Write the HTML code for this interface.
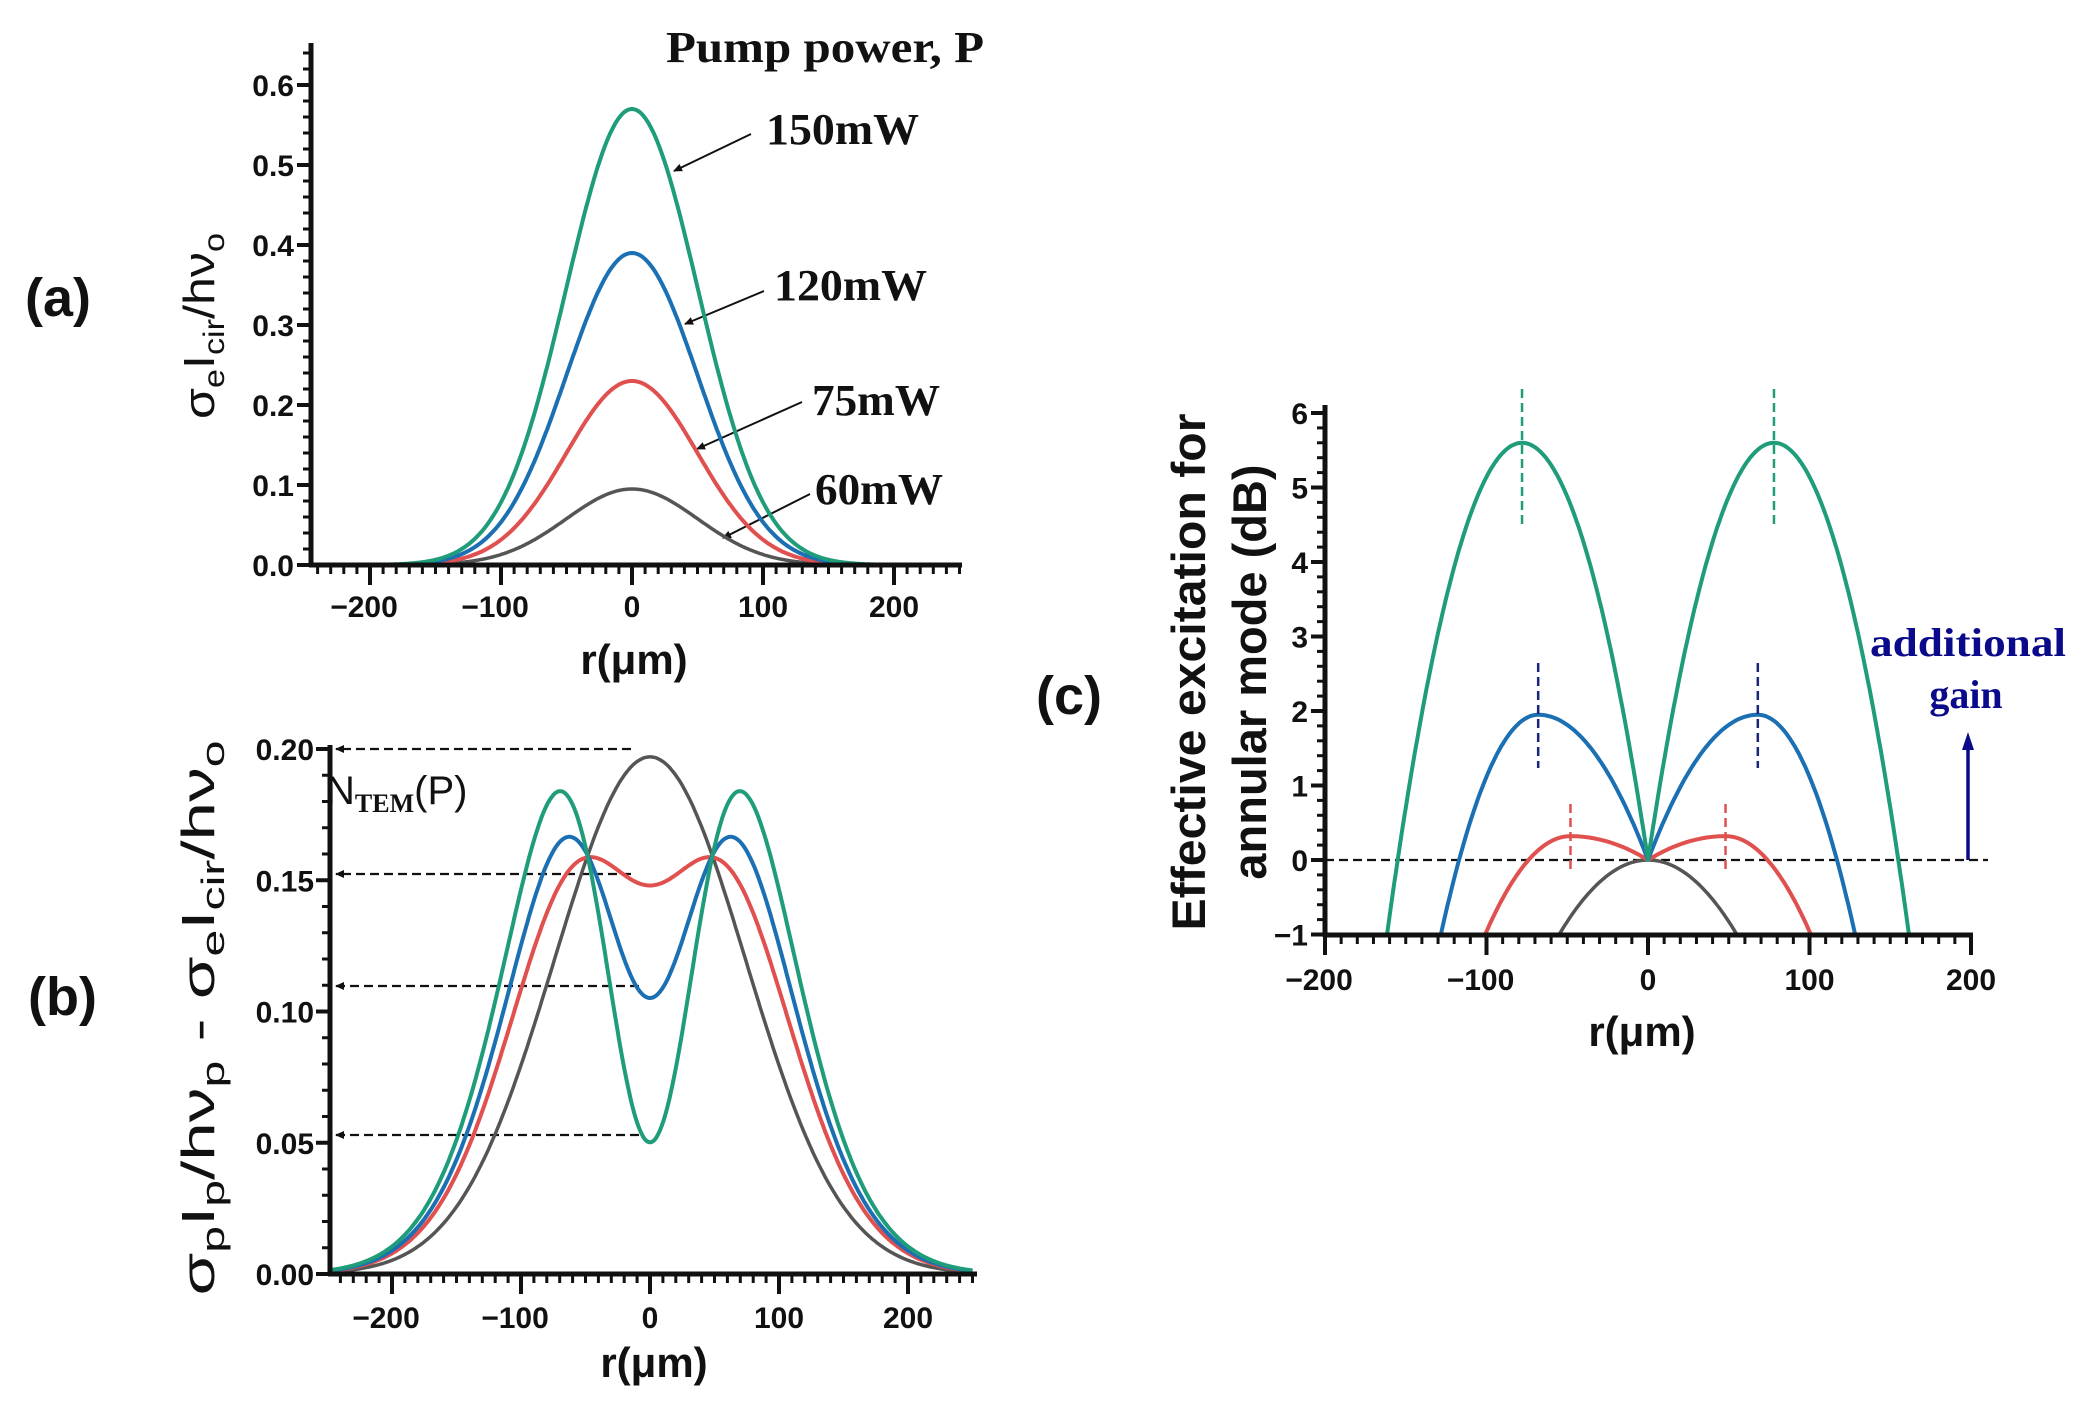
<!DOCTYPE html>
<html><head><meta charset="utf-8"><style>
html,body{margin:0;padding:0;background:#fff;}
svg{display:block}
.t{font-family:"Liberation Sans",sans-serif;font-weight:bold;fill:#111}
.s{font-family:"Liberation Serif",serif;font-weight:bold;fill:#111}
</style></head><body>
<svg id="g" width="2088" height="1411" viewBox="0 0 2088 1411" xmlns="http://www.w3.org/2000/svg">
<defs>
<marker id="ah" markerWidth="10" markerHeight="10" refX="8" refY="5" orient="auto" markerUnits="userSpaceOnUse"><path d="M0,1 L9,5 L0,9 z" fill="#111"/></marker>
<marker id="ahb" markerWidth="20" markerHeight="20" refX="10" refY="18" orient="0" markerUnits="userSpaceOnUse"><path d="M4,20 L10,2 L16,20 z" fill="#0a0a8a"/></marker>
<clipPath id="cc"><rect x="1325" y="360" width="700" height="575"/></clipPath>
</defs>
<!-- Panel labels -->
<text class="t" x="25" y="316" font-size="54">(a)</text>
<text class="t" x="28" y="1015" font-size="54">(b)</text>
<text class="t" x="1036" y="714" font-size="54">(c)</text>

<!-- (a) text -->
<text class="s" x="666" y="62" font-size="44" textLength="318" lengthAdjust="spacingAndGlyphs">Pump power, P</text>
<text class="s" x="766" y="144" font-size="44" textLength="153" lengthAdjust="spacingAndGlyphs">150mW</text>
<text class="s" x="774" y="300" font-size="44" textLength="153" lengthAdjust="spacingAndGlyphs">120mW</text>
<text class="s" x="812" y="415" font-size="44" textLength="128" lengthAdjust="spacingAndGlyphs">75mW</text>
<text class="s" x="815" y="504" font-size="44" textLength="128" lengthAdjust="spacingAndGlyphs">60mW</text>
<g stroke="#111" stroke-width="2" marker-end="url(#ah)">
<line x1="751" y1="134" x2="674" y2="171"/>
<line x1="764" y1="291" x2="685" y2="324"/>
<line x1="802" y1="402" x2="697" y2="449"/>
<line x1="810" y1="494" x2="723" y2="538"/>
</g>
<text transform="translate(214,326) rotate(-90)" text-anchor="middle" font-family="Liberation Sans,sans-serif" font-size="44" fill="#111" textLength="186" lengthAdjust="spacingAndGlyphs">σ<tspan font-size="30" dy="10">e</tspan><tspan dy="-10">I</tspan><tspan font-size="30" dy="10">cir</tspan><tspan dy="-10">/hν</tspan><tspan font-size="30" dy="10">o</tspan></text>
<text class="t" x="634" y="674" font-size="42" text-anchor="middle">r(μm)</text>

<!-- (b) text -->
<text transform="translate(214,1018) rotate(-90)" text-anchor="middle" font-family="Liberation Sans,sans-serif" font-size="46" fill="#111" textLength="555" lengthAdjust="spacingAndGlyphs">σ<tspan font-size="32" dy="10">p</tspan><tspan dy="-10">I</tspan><tspan font-size="32" dy="10">p</tspan><tspan dy="-10">/hν</tspan><tspan font-size="32" dy="10">p</tspan><tspan dy="-10"> - σ</tspan><tspan font-size="32" dy="10">e</tspan><tspan dy="-10">I</tspan><tspan font-size="32" dy="10">cir</tspan><tspan dy="-10">/hν</tspan><tspan font-size="32" dy="10">o</tspan></text>
<text class="t" x="654" y="1377" font-size="42" text-anchor="middle">r(μm)</text>
<text x="326" y="804" font-family="Liberation Sans,sans-serif" font-size="40" fill="#111">N<tspan font-family="Liberation Serif,serif" font-weight="bold" font-size="26" dy="8">TEM</tspan><tspan dy="-8">(P)</tspan></text>
<g stroke="#111" stroke-width="2.2" stroke-dasharray="9,5" fill="none">
<line x1="631" y1="749" x2="336" y2="749" marker-end="url(#ah)"/>
<line x1="631" y1="874" x2="336" y2="874" marker-end="url(#ah)"/>
<line x1="639" y1="986" x2="336" y2="986" marker-end="url(#ah)"/>
<line x1="639" y1="1135" x2="336" y2="1135" marker-end="url(#ah)"/>
</g>

<!-- (c) text -->
<text class="t" transform="translate(1205,672) rotate(-90)" text-anchor="middle" font-size="47" textLength="517" lengthAdjust="spacingAndGlyphs">Effective excitation for</text>
<text class="t" transform="translate(1266,672) rotate(-90)" text-anchor="middle" font-size="47">annular mode (dB)</text>
<text class="t" x="1642" y="1046" font-size="42" text-anchor="middle">r(μm)</text>
<text class="s" x="1968" y="656" font-size="40" text-anchor="middle" style="fill:#0a0a8a" textLength="196" lengthAdjust="spacingAndGlyphs">additional</text>
<text class="s" x="1966" y="708" font-size="40" text-anchor="middle" style="fill:#0a0a8a">gain</text>
<line x1="1968" y1="860" x2="1968" y2="748" stroke="#0a0a8a" stroke-width="3.5" marker-end="url(#ahb)"/>
<line x1="1325" y1="860" x2="1988" y2="860" stroke="#111" stroke-width="2.2" stroke-dasharray="9,5"/>
<g id="dyn"></g>
</svg>
<script>
var NS="http://www.w3.org/2000/svg",G=document.getElementById('dyn');
function el(t,a,p){var e=document.createElementNS(NS,t);for(var k in a)e.setAttribute(k,a[k]);(p||G).appendChild(e);return e;}
function txt(x,y,s,sz,anc){var e=el('text',{x:x,y:y,'class':'t','font-size':sz,'text-anchor':anc||'middle'});e.textContent=s;}
function curve(f,mx,my,r0,r1,col,w,clip){var d='';for(var r=r0;r<=r1+1e-9;r+=1){var X=mx(r),Y=my(f(r));d+=(d?'L':'M')+X.toFixed(1)+','+Y.toFixed(1);}
var a={d:d,fill:'none',stroke:col,'stroke-width':w||4,'stroke-linejoin':'round'};if(clip)a['clip-path']='url(#cc)';el('path',a);}
var GR='#1f9c7a',BL='#1b6fb3',RD='#e0504f',GY='#555555';
var TF=30;
// ---- Panel A ----
(function(){var mx=function(r){return 632+r*1.31},my=function(v){return 565-v*800};
function g(A){return function(r){return A*Math.exp(-(r/71)*(r/71));}}
curve(g(0.095),mx,my,-250,250,GY,3.5);curve(g(0.23),mx,my,-250,250,RD,4);curve(g(0.39),mx,my,-250,250,BL,4);curve(g(0.57),mx,my,-250,250,GR,4);
el('line',{x1:311,y1:43,x2:311,y2:567,stroke:'#111','stroke-width':5});
el('line',{x1:309,y1:565,x2:962,y2:565,stroke:'#111','stroke-width':5});
for(var i=0;i<=32;i++){var v=i*0.02,Y=my(v);if(Y<43)break;var maj=(i%5==0);el('line',{x1:311,x2:maj?297:303,y1:Y,y2:Y,stroke:'#111','stroke-width':maj?4:3});if(maj)txt(294,Y+11,v.toFixed(1),TF,'end');}
for(var r=-240;r<=250;r+=10){var X=mx(r);var maj=(r%100==0);el('line',{x1:X,x2:X,y1:565,y2:maj?585:574,stroke:'#111','stroke-width':maj?4:3});if(maj)txt(X+(r<0?-6:0),617,(r<0?'\u2212':'')+Math.abs(r),TF);}
})();
// ---- Panel B ----
(function(){var mx=function(r){return 650+r*1.29},my=function(v){return 1274-v*2625};
function f(A,wp,d,wd){return function(r){return A*Math.exp(-(r/wp)*(r/wp))*(1-d*Math.exp(-(r/wd)*(r/wd)));}}
curve(f(0.197,105,0,50),mx,my,-248,250,GY,3.5);curve(f(0.296,105,0.5,77),mx,my,-248,250,RD,4);curve(f(0.337,105,0.688,68),mx,my,-248,250,BL,4);curve(f(0.395,105,0.873,65),mx,my,-248,250,GR,4);
el('line',{x1:330,y1:745,x2:330,y2:1276,stroke:'#111','stroke-width':5});
el('line',{x1:328,y1:1274,x2:977,y2:1274,stroke:'#111','stroke-width':5});
for(var i=0;i<=20;i++){var v=i*0.01,Y=my(v);var maj=(i%5==0);el('line',{x1:330,x2:maj?316:322,y1:Y,y2:Y,stroke:'#111','stroke-width':maj?4:3});if(maj)txt(314,Y+11,v.toFixed(2),TF,'end');}
for(var r=-240;r<=250;r+=10){var X=mx(r);var maj=(r%100==0);el('line',{x1:X,x2:X,y1:1274,y2:maj?1294:1283,stroke:'#111','stroke-width':maj?4:3});if(maj)txt(X+(r<0?-6:0),1328,(r<0?'\u2212':'')+Math.abs(r),TF);}
})();
// ---- Panel C ----
(function(){var mx=function(r){return 1648+r*1.615},my=function(v){return 860-v*74.5};
function h(pk,rp,z){return function(r){var a=Math.abs(r),u;if(a<=rp){u=(a-rp)/rp;}else{u=(a-rp)/(z-rp);}return pk*(1-u*u);}}
curve(function(r){return -(r/55)*(r/55)},mx,my,-80,80,GY,3.5,1);
curve(h(0.32,48,74),mx,my,-110,110,RD,4,1);
curve(h(1.95,68,117),mx,my,-140,140,BL,4,1);
curve(h(5.6,78,155),mx,my,-175,175,GR,4,1);
var dl=[[78,389,527,GR],[68,663,768,'#1a237e'],[48,804,871,RD]];
dl.forEach(function(d){[-1,1].forEach(function(s){var X=mx(s*d[0]);el('line',{x1:X,x2:X,y1:d[1],y2:d[2],stroke:d[3],'stroke-width':2.5,'stroke-dasharray':'9,5'});});});
el('line',{x1:1325,y1:405,x2:1325,y2:937,stroke:'#111','stroke-width':5});
el('line',{x1:1323,y1:935,x2:1973,y2:935,stroke:'#111','stroke-width':5});
for(var i=0;i<=35;i++){var v=-1+i*0.2,Y=my(v);var maj=(i%5==0);el('line',{x1:1325,x2:maj?1311:1317,y1:Y,y2:Y,stroke:'#111','stroke-width':maj?4:3});if(maj)txt(1308,Y+11,(v<-0.5?'\u2212':'')+Math.round(Math.abs(v)),TF,'end');}
for(var r=-200;r<=200;r+=10){var X=mx(r);var maj=(r%100==0);el('line',{x1:X,x2:X,y1:935,y2:maj?955:944,stroke:'#111','stroke-width':maj?4:3});if(maj)txt(X+(r<0?-6:0),990,(r<0?'\u2212':'')+Math.abs(r),TF);}
})();
</script>
</body></html>
